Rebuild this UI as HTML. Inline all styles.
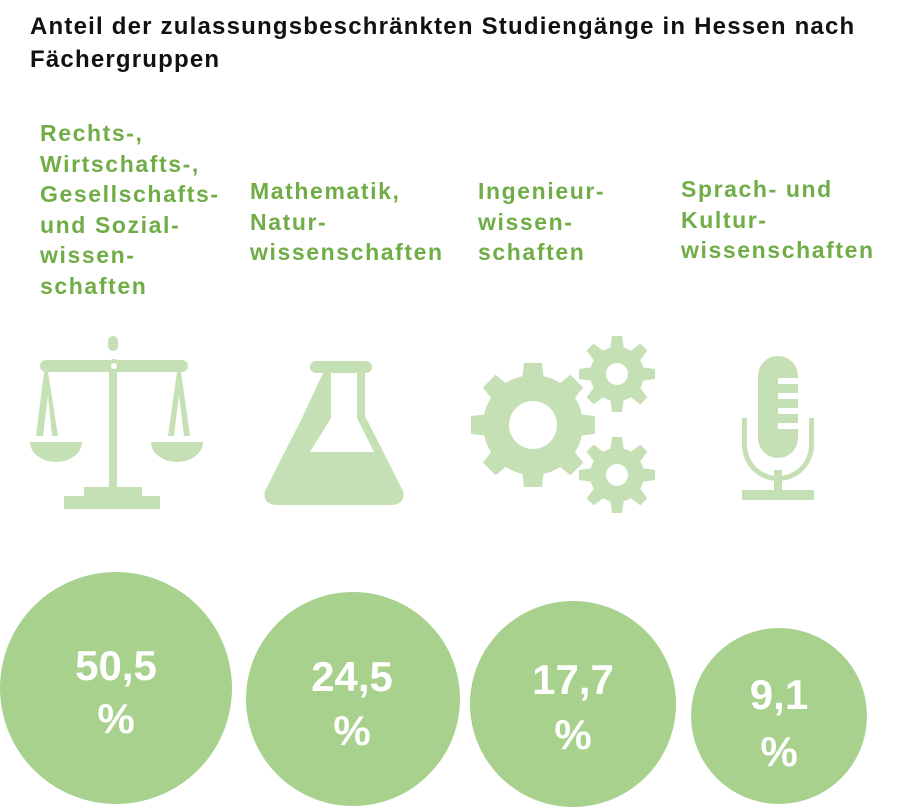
<!DOCTYPE html>
<html><head><meta charset="utf-8"><style>
body{margin:0;background:#fff;width:916px;height:809px;overflow:hidden;font-family:"Liberation Sans",sans-serif}
.t{position:absolute;left:30px;top:10px;font-size:24px;font-weight:bold;line-height:33px;color:#111;letter-spacing:1.2px;white-space:nowrap}
.l{position:absolute;font-size:23px;font-weight:bold;line-height:30.5px;color:#70ad47;letter-spacing:1.6px;white-space:nowrap}
</style></head><body>
<div class="t">Anteil der zulassungsbeschränkten Studiengänge in Hessen nach<br>Fächergruppen</div>
<div class="l" style="left:40px;top:118px">Rechts-,<br>Wirtschafts-,<br>Gesellschafts-<br>und Sozial-<br>wissen-<br>schaften</div>
<div class="l" style="left:250px;top:176px">Mathematik,<br>Natur-<br>wissenschaften</div>
<div class="l" style="left:478px;top:176px">Ingenieur-<br>wissen-<br>schaften</div>
<div class="l" style="left:681px;top:174px">Sprach- und<br>Kultur-<br>wissenschaften</div>
<svg width="916" height="809" style="position:absolute;left:0;top:0">
<defs>
<g id="t"><polygon points="-9,-62 9,-62 11,-44 -11,-44"/><polygon points="-9,62 9,62 11,44 -11,44"/></g>
<g id="s"><polygon points="-5,-38 5,-38 7,-24 -7,-24"/><polygon points="-5,38 5,38 7,24 -7,24"/></g>
</defs>
<g fill="#c5e0b4">
<rect x="108" y="336" width="10" height="15" rx="5"/>
<rect x="40" y="360" width="148" height="12" rx="6"/>
<circle cx="114" cy="366" r="7"/>
<rect x="109" y="372" width="8" height="120"/>
<rect x="84" y="487" width="58" height="12"/>
<rect x="64" y="496" width="96" height="13"/>
<polygon points="44,372 48,372 58,436 52,436 48,395 43,436 36,436"/>
<polygon points="177,372 181,372 190,436 184,436 179,395 174,436 168,436"/>
<path d="M30,442 h52 a26,20 0 0 1 -52,0z"/>
<path d="M151,442 h52 a26,20 0 0 1 -52,0z"/>
<rect x="310" y="361" width="62" height="12" rx="6"/>
<path d="M323,373 h42 v43 l38,75 q3,12 -10,14 h-118 q-13,-2 -10,-14 l38,-75z"/>
<g transform="translate(533,425)"><circle r="50"/><use href="#t"/><use href="#t" transform="rotate(45)"/><use href="#t" transform="rotate(90)"/><use href="#t" transform="rotate(135)"/></g>
<g transform="translate(617,374)"><circle r="27"/><use href="#s"/><use href="#s" transform="rotate(45)"/><use href="#s" transform="rotate(90)"/><use href="#s" transform="rotate(135)"/></g>
<g transform="translate(617,475)"><circle r="27"/><use href="#s"/><use href="#s" transform="rotate(45)"/><use href="#s" transform="rotate(90)"/><use href="#s" transform="rotate(135)"/></g>
<rect x="758" y="356" width="40" height="102" rx="20"/>
<rect x="742" y="418" width="5" height="30"/><rect x="809" y="418" width="5" height="30"/>
<path d="M742,445 a36,36 0 0 0 72,0 h-5 a31,31 0 0 1 -62,0z"/>
<rect x="774" y="470" width="8" height="24"/>
<rect x="742" y="490" width="72" height="10"/>
</g>
<g fill="#fff">
<circle cx="114" cy="366" r="3"/>
<circle cx="533" cy="425" r="24"/><circle cx="617" cy="374" r="11"/><circle cx="617" cy="475" r="11"/>
<rect x="778" y="378" width="20" height="6"/><rect x="778" y="393" width="20" height="6"/><rect x="778" y="408" width="20" height="6"/><rect x="778" y="423" width="20" height="6"/>
<polygon points="331,373 357,373 357,418 374,452 310,452 331,418"/>
</g>
<g fill="#a9d18e">
<circle cx="116" cy="688" r="116"/>
<circle cx="353" cy="699" r="107"/>
<circle cx="573" cy="704" r="103"/>
<circle cx="779" cy="716" r="88"/>
</g>
<g fill="#fff" font-family="Liberation Sans,sans-serif" font-weight="bold" font-size="42" text-anchor="middle">
<text x="116" y="680">50,5</text><text x="116" y="733">%</text>
<text x="352" y="691">24,5</text><text x="352" y="745">%</text>
<text x="573" y="694">17,7</text><text x="573" y="749">%</text>
<text x="779" y="709">9,1</text><text x="779" y="766">%</text>
</g>
</svg>
</body></html>
